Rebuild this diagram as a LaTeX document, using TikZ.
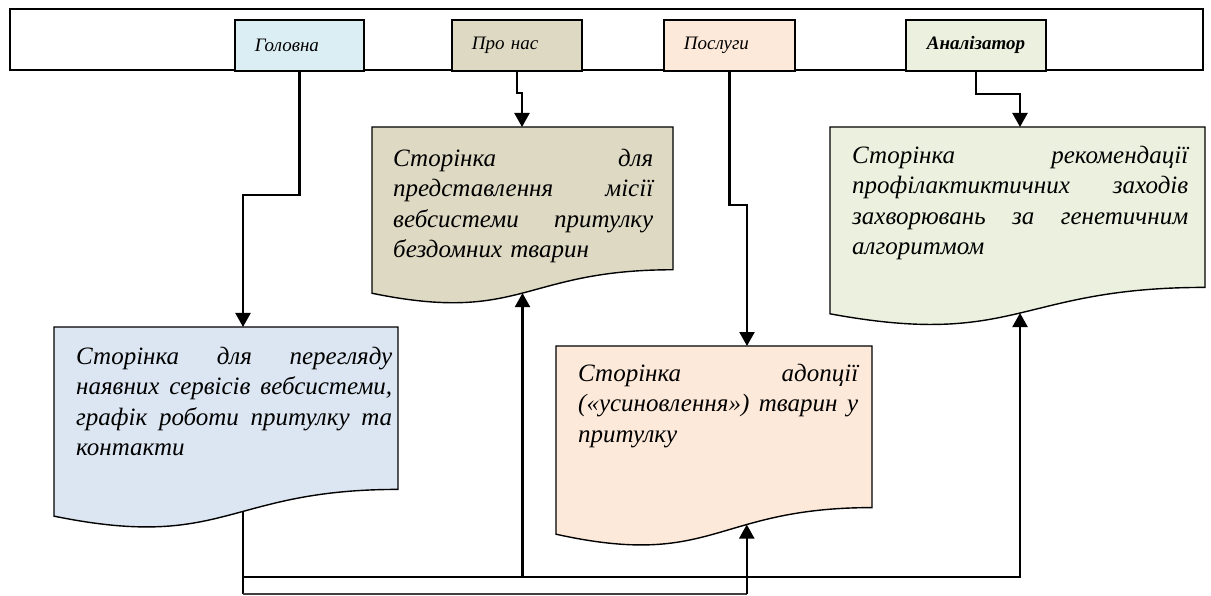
\documentclass[tikz,border=0pt]{standalone}
\usepackage{fontspec}
\setmainfont{Liberation Serif}
\usetikzlibrary{calc,arrows.meta}
\definecolor{cHome}{HTML}{DBEEF4}
\definecolor{cAbout}{HTML}{DDD9C3}
\definecolor{cServ}{HTML}{FDE9D9}
\definecolor{cAnal}{HTML}{EBF1DE}
\definecolor{cBlue}{HTML}{DCE6F2}
\tikzset{
  menubar/.style={draw, line width=1.6pt, anchor=north west, inner sep=0pt},
  menubtn/.style={draw, line width=1.8pt, minimum height=51pt, inner xsep=20pt, inner ysep=0pt,
    anchor=north west, font=\fontsize{19}{21}\selectfont\itshape, align=left},
  docline/.style={draw, line width=1.4pt},
  doctext/.style={anchor=north west, inner sep=0pt, font=\fontsize{25}{30.3}\selectfont\itshape, align=left},
  conn/.style={line width=2.2pt},
  thinconn/.style={line width=1.3pt, draw=black!75},
  arr/.style={-{Triangle[width=15pt,length=14pt]}},
}
% #1 name, #2 left, #3 top, #4 width, #5 height, #6 colour, #7 curve parameter of bottom point
\newcommand\pagedoc[7]{%
  \coordinate (#1nw) at (#2,#3);
  \coordinate (#1ne) at ($(#1nw)+(#4,0)$);
  \coordinate (#1r) at ($(#1nw)+(#4,0.802*#5)$);
  \coordinate (#1l) at ($(#1nw)+(0,0.934*#5)$);
  \coordinate (#1ca) at ($(#1nw)+(0.5*#4,0.802*#5)$);
  \coordinate (#1cb) at ($(#1nw)+(0.5*#4,1.1075*#5)$);
  \draw[docline, fill=#6] (#1nw) -- (#1ne) -- (#1r) .. controls (#1ca) and (#1cb) .. (#1l)
     coordinate[pos=#7] (#1b) -- cycle;
}
\begin{document}
\begin{tikzpicture}[x=1pt, y=-1pt]
\useasboundingbox (0,0) rectangle (1211,596);

% menu bar and buttons
\node[menubar, minimum width=1193pt, minimum height=61pt] (menu) at (9,8) {};
\node[menubtn, fill=cHome, text width=89pt] (b1) at (234,19) {Головна};
\node[menubtn, fill=cAbout, text width=90pt] (b2) at (451,19) {Про нас};
\node[menubtn, fill=cServ, text width=91pt] (b3) at (663,19) {Послуги};
\node[menubtn, fill=cAnal, text width=98pt, inner xsep=21pt] (b4) at (905,19) {\bfseries Аналізатор};

% documents
\pagedoc{d1}{54}{327}{344}{202.5}{cBlue}{0.435}
\pagedoc{d2}{372}{127}{301}{178}{cAbout}{0.5}
\pagedoc{d3}{556}{346}{316}{201.5}{cServ}{0.365}
\pagedoc{d4}{830}{127}{375}{200}{cAnal}{0.491}

\node[doctext, text width=316pt] (t1) at (76,347) {%
Сторінка~\hfill для~\hfill перегляду\\
наявних~\hfill сервісів~\hfill вебсистеми,\\
графік~\hfill роботи~\hfill притулку~\hfill та\\
контакти};
\node[doctext, text width=260pt] (t2) at (393,149) {%
Сторінка~\hfill для\\
представлення~\hfill місії\\
вебсистеми~\hfill притулку\\
бездомних тварин};
\node[doctext, text width=280pt] (t3) at (578,364) {%
Сторінка~\hfill адопції\\
(«усиновлення»)~\hfill тварин~\hfill у\\
притулку};
\node[doctext, text width=336pt] (t4) at (852,146) {%
Сторінка~\hfill рекомендації\\
профілактиктичних~\hfill заходів\\
захворювань~\hfill за~\hfill генетичним\\
алгоритмом};

% step points of the top connectors
\coordinate (s1) at (243,195);
\coordinate (s2) at (522,93);
\coordinate (s3) at (747,205);
\coordinate (s4) at (1020,94);
\draw[conn, arr] (b1.south) |- (s1) -- (s1 |- d1nw);
\draw[conn, arr] (b2.south) |- (s2) -- (s2 |- d2nw);
\draw[conn, arr] (b3.south) |- (s3) -- (s3 |- d3nw);
\draw[conn, arr] (b4.south) |- (s4) -- (s4 |- d4nw);

% bottom connectors
\coordinate (busY) at (0,577);
\coordinate (lowY) at (0,594);
\draw[conn] (d1b) -- (d1b |- lowY);
\draw[conn, arr] (d1b |- busY) -| (d4b);
\draw[conn, arr] (d2b |- busY) -- (d2b);
\draw[thinconn] (d1b |- lowY) -- (d3b |- lowY);
\draw[conn, arr] (d3b |- lowY) -- (d3b);
\end{tikzpicture}
\end{document}
